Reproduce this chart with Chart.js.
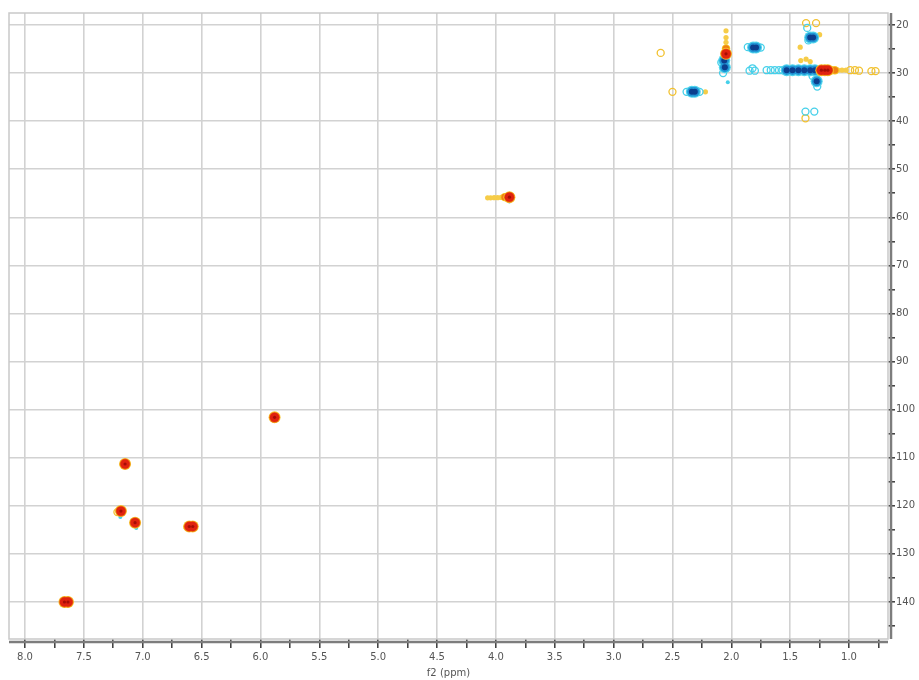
<!DOCTYPE html>
<html>
<head>
<meta charset="utf-8">
<script src="https://cdn.jsdelivr.net/npm/chart.js@4.4.1/dist/chart.umd.min.js"></script>
<style>
html,body{margin:0;padding:0;background:#fff;}
#wrap{width:919px;height:680px;position:relative;}
</style>
</head>
<body>
<div id="wrap"><canvas id="c" width="919" height="680"></canvas></div>
<script>
// ---- axis ranges (ppm) ----
const f2Range = [0.669, 8.136];   // x, reversed
const f1Range = [17.5, 147.7];    // y, reversed
const f2TickValues = [8.0,7.75,7.5,7.25,7.0,6.75,6.5,6.25,6.0,5.75,5.5,5.25,5.0,4.75,4.5,4.25,4.0,3.75,3.5,3.25,3.0,2.75,2.5,2.25,2.0,1.75,1.5,1.25,1.0,0.75];
const f2TickLabels = ["8.0","","7.5","","7.0","","6.5","","6.0","","5.5","","5.0","","4.5","","4.0","","3.5","","3.0","","2.5","","2.0","","1.5","","1.0",""];
const f1TickValues = [20,25,30,35,40,45,50,55,60,65,70,75,80,85,90,95,100,105,110,115,120,125,130,135,140,145];
const f1TickLabels = ["20","","30","","40","","50","","60","","70","","80","","90","","100","","110","","120","","130","","140",""];

// ---- cross peaks [f2 ppm, f1 ppm] ----
// strong positive (red cores)
const posStrong = [[7.665,140.0],[7.635,140.0],[7.15,111.3],[7.185,121.1],[7.065,123.5],[6.605,124.3],[6.575,124.3],[5.88,101.6],[3.885,55.8],[2.045,26.0],[1.235,29.4],[1.205,29.4],[1.18,29.4]];
// medium positive (orange)
const posMid = [[3.925,55.8],[1.15,29.4],[1.12,29.4],[2.045,24.9]];
// weak positive, filled tails (yellow)
const posTail = [[3.955,55.85],[3.985,55.9],[4.015,55.9],[4.045,55.95],[4.07,55.95],[1.095,29.4],[1.06,29.4],[1.025,29.4],[2.045,21.2],[2.045,22.6],[2.045,23.6],[7.175,111.4],[6.635,124.4],[2.22,33.9],[1.41,27.4],[1.365,27.1],[1.33,27.6],[1.25,22.0],[1.415,24.6],[1.27,30.8]];
// weak positive contour rings (yellow)
const posWeak = [[7.215,121.3],[2.60,25.8],[2.50,33.9],[1.365,19.6],[1.28,19.6],[1.37,39.4],[0.99,29.4],[0.95,29.4],[0.915,29.5],[0.81,29.6],[0.775,29.6]];
// strong negative (blue cores)
const negStrong = [[2.335,33.9],[2.31,33.9],[1.815,24.7],[1.79,24.7],[2.06,27.4],[2.055,28.8],[1.33,22.6],[1.305,22.6],[1.53,29.4],[1.48,29.4],[1.43,29.4],[1.38,29.4],[1.33,29.4],[1.29,29.4],[1.275,31.7]];
// weak negative contours (cyan)
const negWeak = [[2.38,33.9],[2.27,33.9],[1.86,24.6],[1.75,24.7],[1.845,29.5],[1.80,29.5],[1.70,29.4],[1.665,29.4],[1.63,29.4],[1.595,29.4],[1.565,29.4],[2.07,30.0],[2.085,27.8],[1.37,38.0],[1.295,38.0],[1.355,20.6],[1.345,23.2],[1.27,32.8],[1.31,30.6],[1.82,29.0]];
// faint negative specks
const negSpeck = [[7.055,124.6],[7.19,122.3],[3.885,56.7],[2.03,31.9]];

function pts(arr){ return arr.map(p => ({x:p[0], y:p[1]})); }
function layer(arr, r, fill, border, bw, order){
  return { data: pts(arr), pointRadius: r, pointHoverRadius: r, backgroundColor: fill,
           borderColor: border, borderWidth: bw, pointStyle: 'circle', order: order, showLine: false };
}

const datasets = [
  // weak contours (bottom)
  layer(posWeak, 3.5, 'rgba(255,255,255,0)', '#f2c12e', 1.3, 21),
  layer(posTail, 2.6, '#f6cc48', '#f6cc48', 0, 20),
  layer(negWeak, 3.5, 'rgba(255,255,255,0)', '#45d0ea', 1.3, 19),
  layer(negSpeck, 2, '#45d0ea', '#45d0ea', 0, 18),
  // negative strong
  layer(negStrong, 6, '#4fd4ec', '#4fd4ec', 0, 15),
  layer(negStrong, 4.8, '#2196d6', '#2196d6', 0, 14),
  layer(negStrong, 3, '#0c3f8e', '#0c3f8e', 0, 13),
  // positive mid
  layer(posMid, 4.2, '#f5c320', '#f5c320', 0, 11),
  layer(posMid, 3.3, '#f08010', '#f08010', 0, 10),
  // positive strong
  layer(posStrong, 6, '#f7c733', '#f7c733', 0, 9),
  layer(posStrong, 5.4, '#ee7412', '#ee7412', 0, 8),
  layer(posStrong, 4.7, '#e0230f', '#e0230f', 0, 7),
  layer(posStrong, 1.6, '#a60e06', '#a60e06', 0, 6)
];

const framePlugin = {
  id: 'frame',
  beforeDatasetsDraw(chart){
    const {ctx, chartArea:a} = chart;
    ctx.save();
    ctx.strokeStyle = '#c9c9c9';
    ctx.lineWidth = 1.5;
    ctx.strokeRect(a.left, a.top, a.right - a.left, a.bottom - a.top);
    ctx.restore();
  },
  afterDraw(chart){
    const {ctx, chartArea:a} = chart;
    ctx.save();
    ctx.strokeStyle = '#7d7d7d';
    ctx.lineWidth = 2.5;
    ctx.beginPath();
    ctx.moveTo(a.left, a.bottom + 3);
    ctx.lineTo(a.right, a.bottom + 3);
    ctx.moveTo(a.right + 3, a.top);
    ctx.lineTo(a.right + 3, a.bottom);
    ctx.stroke();
    ctx.restore();
  }
};

new Chart(document.getElementById('c'), {
  type: 'scatter',
  data: { datasets },
  options: {
    responsive: false,
    animation: false,
    events: [],
    layout: { padding: { left: 9, top: 13, right: 0, bottom: 0 } },
    plugins: { legend: { display: false }, tooltip: { enabled: false } },
    scales: {
      x: {
        type: 'linear', reverse: true, min: f2Range[0], max: f2Range[1],
        position: 'bottom',
        afterBuildTicks: s => { s.ticks = f2TickValues.map(v => ({value: v})); },
        afterFit: s => { s.height = 41; },
        border: { display: false },
        grid: {
          color: c => (c.tick && f2TickLabels[f2TickValues.indexOf(c.tick.value)] !== '') ? '#d2d2d2' : 'rgba(0,0,0,0)',
          lineWidth: 1.6,
          tickColor: '#3a3a3a', tickLength: 9, tickWidth: 1.5
        },
        ticks: {
          autoSkip: false, maxRotation: 0, padding: 3,
          color: '#555', font: { family: 'DejaVu Sans', size: 10 },
          callback: (v) => f2TickLabels[f2TickValues.indexOf(v)] ?? ''
        },
        title: { display: true, text: 'f2 (ppm)', color: '#555', font: { family: 'DejaVu Sans', size: 10 }, padding: { top: 0, bottom: 1 } }
      },
      y: {
        type: 'linear', reverse: true, min: f1Range[0], max: f1Range[1],
        position: 'right',
        afterBuildTicks: s => { s.ticks = f1TickValues.map(v => ({value: v})); },
        afterFit: s => { s.width = 31; },
        border: { display: false },
        grid: {
          color: c => (c.tick && f1TickLabels[f1TickValues.indexOf(c.tick.value)] !== '') ? '#d2d2d2' : 'rgba(0,0,0,0)',
          lineWidth: 1.6,
          tickColor: '#3a3a3a', tickLength: 7, tickWidth: 1.5
        },
        ticks: {
          autoSkip: false, padding: 1,
          color: '#555', font: { family: 'DejaVu Sans', size: 10 },
          callback: (v) => f1TickLabels[f1TickValues.indexOf(v)] ?? ''
        }
      }
    }
  },
  plugins: [framePlugin]
});
</script>
</body>
</html>
